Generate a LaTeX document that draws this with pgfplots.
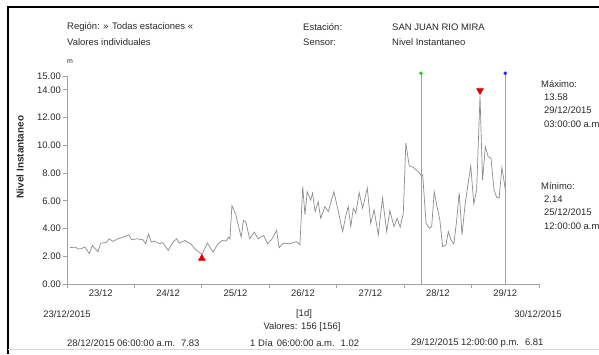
\documentclass[border=0pt]{standalone}
\usepackage{pgfplots}
\pgfplotsset{compat=1.18}
\usepackage{fontspec}
\setmainfont{Liberation Sans}
\definecolor{axg}{HTML}{A0A0A0}
\definecolor{lng}{HTML}{8C8C8C}
\definecolor{txt}{HTML}{2A2A2A}
\definecolor{mred}{HTML}{E00000}
\definecolor{mgreen}{HTML}{22CC22}
\definecolor{mblue}{HTML}{1F1FEE}
\newcommand{\fs}{\fontsize{9.5}{11}\selectfont}
\begin{document}
\begin{tikzpicture}[x=1bp,y=1bp,every node/.style={inner sep=0pt,text=txt,font=\fs}]
\path[use as bounding box] (0,0) rectangle (599,-354);
\fill[white] (0,0) rectangle (599,-354);
\draw[black, line width=2bp] (8,-354) -- (8,-7) -- (599,-7);
\draw[black!15, line width=1bp] (8,-349.5) -- (599,-349.5);
\begin{axis}[
  at={(67bp,-284bp)}, anchor=south west,
  scale only axis, width=472bp, height=208bp,
  xmin=0, xmax=168, ymin=0, ymax=15,
  clip=false,
  axis lines=left,
  axis line style={draw=axg, line width=0.8bp, -},
  tick align=outside,
  major tick length=4bp,
  tick style={draw=axg, line width=0.8bp},
  xtick={0,24,...,168},
  xticklabels={23/12,24/12,25/12,26/12,27/12,28/12,29/12,{}},
  xticklabel style={xshift=33.7bp, yshift=-1bp, font=\fs, text=txt},
  ytick={0,2,4,6,8,10,12,14,15},
  yticklabel style={font=\fs, text=txt, xshift=-2bp},
  /pgf/number format/.cd, fixed, fixed zerofill, precision=2, assume math mode=true,
]
\addplot[lng, line width=0.7bp, mark=none] coordinates {
(1,2.62)(3,2.66)(4,2.52)(5,2.55)(6.4,2.66)(8,2.2)(9,2.78)(11,2.32)(12,2.95)(14,3.0)(15,3.26)(16.4,3.07)(18,3.26)(20,3.38)(22,3.55)(23,3.19)(25,3.26)(27,3.19)(28,2.9)(29,3.62)(30,3.02)(31,3.1)(33,2.9)(34,3.0)(36,2.42)(37.7,3.02)(39,3.26)(40,2.95)(42,3.14)(44,2.9)(46,2.45)(48,2.14)(50,2.95)(52,2.3)(53.7,2.9)(55.4,3.14)(56.6,3.1)(57.6,3.38)(58,3.26)(58.7,5.66)(60,5.06)(62,3.38)(62.8,4.58)(63.7,4.46)(65,3.26)(66.7,3.74)(68,3.26)(70,3.5)(71.4,2.9)(73,3.26)(74.6,3.86)(75.5,2.62)(77,2.95)(79,2.9)
(80,2.95)(81.7,3.06)(82.9,2.82)(83.9,7.03)(84.7,4.98)(85.5,6.66)(86.7,6.06)(87.4,6.55)(88.3,5.22)(89.4,5.94)(90.3,4.74)(91.8,5.58)(93,5.22)(95,6.66)(96.2,5.58)(98.1,3.78)(99.3,4.98)(100.1,5.58)(101,4.14)(101.9,5.47)(102.8,5.1)(104,6.59)(105.2,5.47)(106.9,6.91)(108.1,4.38)(109.3,5.34)(110.8,3.54)(112.3,6.19)(113.8,3.78)(114.9,5.29)(116.4,4.14)(117.5,4.74)(118.6,4.1)(119.7,5.1)
(120.6,10.16)(121.8,8.52)(123.2,8.42)(125,8.1)(126,7.83)(126.6,7.87)(127.8,4.38)(129,4.02)(129.8,4.14)(130.7,6.66)(131.8,5.47)(132.7,4.62)(133.7,2.69)(134.9,2.82)(135.7,3.78)(136.7,3.18)(137.7,2.89)(138.7,4.62)(139.6,6.59)(140.6,3.54)(141.6,5.58)(142.6,7.03)(143.7,8.52)(144.8,5.78)(145.8,6.79)(146.4,10.16)(147,13.58)(147.5,10.16)(147.9,7.51)(148.9,9.91)(149.9,9.19)(150.9,9.07)(152,6.79)(152.9,6.26)(153.8,6.19)(154.8,8.42)(156,6.81)
};
\addplot[axg, line width=0.8bp, mark=none] coordinates {(126,0)(126,15.2)};
\addplot[axg, line width=0.8bp, mark=none] coordinates {(156,0)(156,15.2)};
\addplot[only marks, mark=*, mark size=1.6bp, mgreen] coordinates {(126,15.2)};
\addplot[only marks, mark=*, mark size=1.6bp, mblue] coordinates {(156,15.2)};
\addplot[only marks, mark=triangle*, mark size=4bp, mark options={draw=mred, fill=mred, rotate=180}] coordinates {(147,13.95)};
\addplot[only marks, mark=triangle*, mark size=4bp, mark options={draw=mred, fill=mred}] coordinates {(48,1.85)};
\end{axis}
\node[anchor=west] at (67,-27) {Región: » Todas estaciones «};
\node[anchor=west] at (67,-42) {Valores individuales};
\node[anchor=west] at (303,-27) {Estación:};
\node[anchor=west] at (303,-42) {Sensor:};
\node[anchor=west] at (392,-27) {SAN JUAN RIO MIRA};
\node[anchor=west] at (392,-42) {Nivel Instantaneo};
\node[font=\fontsize{7}{8}\selectfont] at (70,-62) {m};
\node[rotate=90, font=\bfseries\fontsize{10}{12}\selectfont] at (20,-157) {Nivel Instantaneo};
\node[anchor=west] at (541,-84) {Máximo:};
\node[anchor=west] at (544,-97) {13.58};
\node[anchor=west] at (544,-110) {29/12/2015};
\node[anchor=west] at (544,-124) {03:00:00 a.m};
\node[anchor=west] at (541,-186) {Mínimo:};
\node[anchor=west] at (544,-199) {2.14};
\node[anchor=west] at (544,-212) {25/12/2015};
\node[anchor=west] at (544,-226) {12:00:00 a.m};
\node at (67,-314.5) {23/12/2015};
\node at (304,-314.5) {[1d]};
\node at (538,-314.5) {30/12/2015};
\node at (302,-327) {Valores: 156 [156]};
\node[anchor=west] at (67,-343) {28/12/2015 06:00:00 a.m.\hspace{6bp}7.83};
\node[anchor=west] at (250,-343) {1 Día\hspace{4bp}06:00:00 a.m.\hspace{6bp}1.02};
\node[anchor=west] at (411,-343) {29/12/2015 12:00:00 p.m.\hspace{6bp}6.81};
\end{tikzpicture}
\end{document}
